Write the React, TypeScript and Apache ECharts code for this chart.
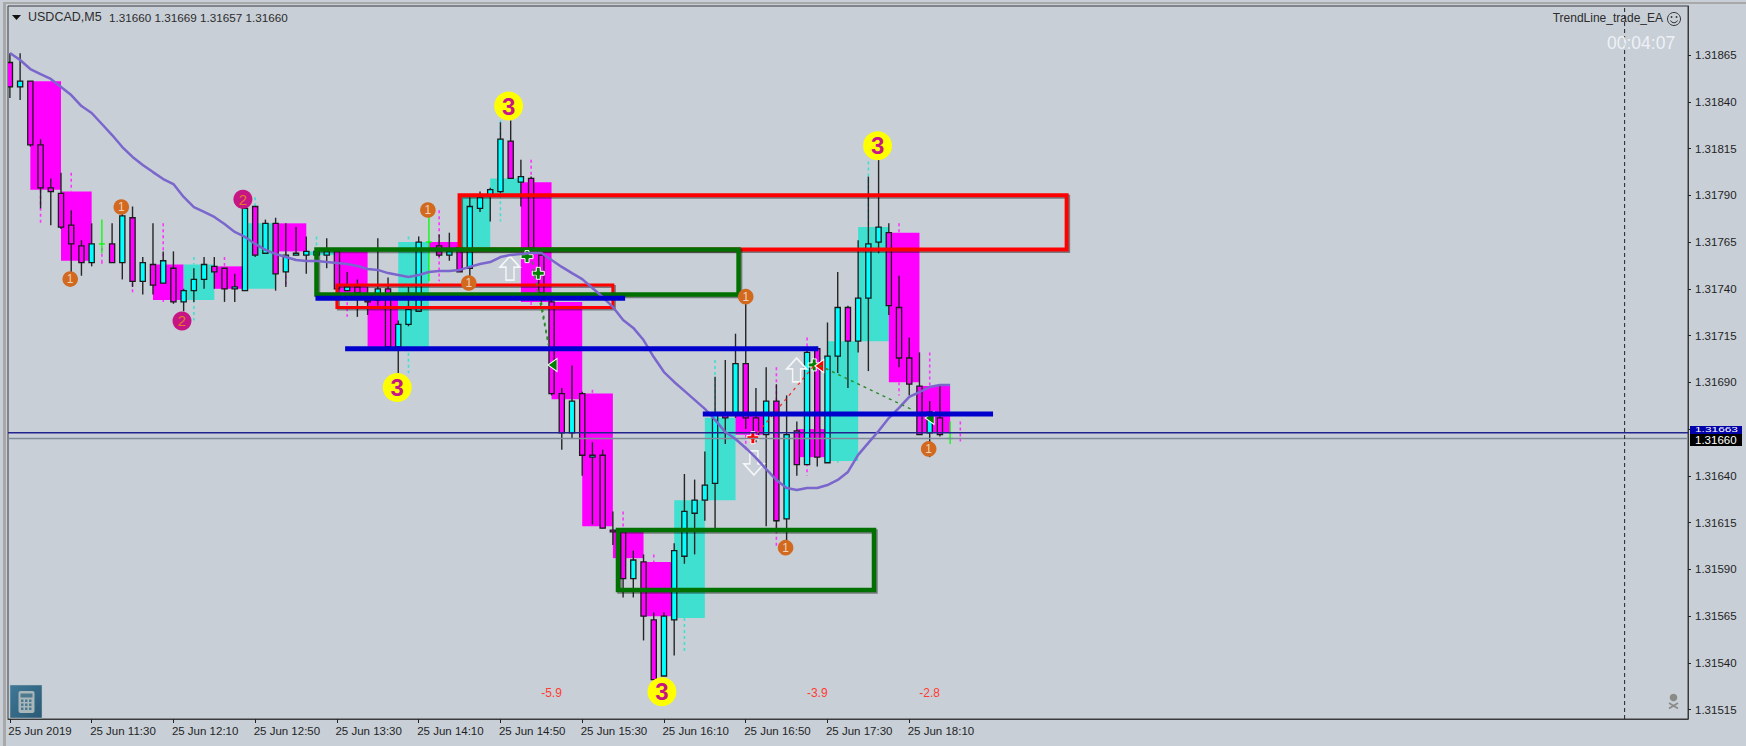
import React, { useEffect, useRef } from "react";
import * as echarts from "echarts";

// All prices are in 1e-5 units (points), e.g. 131660 = 1.31660
const highs = [131866,131866,131851,131820,131799,131802,131782,131766,131775,131777,131775,131784,131784,131757,131775,131760,131760,131740,131751,131757,131757,131751,131748,131783,131784,131777,131778,131775,131773,131768,131761,131767,131760,131749,131745,131741,131767,131746,131723,131741,131768,131782,131769,131770,131765,131789,131792,131794,131829,131830,131809,131800,131761,131734,131687,131699,131685,131658,131654,131621,131610,131600,131598,131567,131567,131604,131641,131638,131653,131693,131702,131716,131736,131687,131698,131689,131683,131669,131709,131708,131722,131749,131731,131766,131800,131809,131775,131747,131714,131706,131680,131688,131669];
const opens = [131861,131848,131851,131817,131794,131791,131774,131763,131754,131764,131764,131754,131778,131744,131753,131743,131751,131733,131739,131745,131752,131751,131740,131739,131784,131759,131775,131749,131758,131758,131758,131758,131760,131739,131741,131734,131734,131740,131709,131721,131728,131765,131763,131758,131762,131751,131783,131790,131792,131819,131797,131799,131758,131733,131684,131663,131684,131650,131651,131611,131610,131585,131594,131563,131533,131563,131597,131620,131627,131636,131673,131673,131700,131671,131662,131680,131617,131664,131646,131708,131647,131704,131730,131712,131735,131765,131770,131730,131703,131688,131663,131671,131660];
const closes = [131848,131851,131817,131794,131792,131773,131764,131754,131764,131764,131754,131779,131744,131754,131742,131755,131733,131739,131745,131753,131749,131740,131741,131783,131758,131775,131748,131758,131759,131760,131760,131760,131740,131741,131738,131733,131740,131709,131721,131729,131765,131765,131758,131760,131749,131784,131789,131793,131820,131799,131800,131762,131738,131684,131663,131680,131651,131651,131612,131610,131585,131595,131565,131531,131565,131600,131621,131627,131635,131673,131671,131700,131671,131661,131680,131616,131662,131646,131706,131650,131704,131730,131712,131735,131764,131773,131731,131703,131689,131662,131674,131662,131660];
const lows = [131842,131841,131816,131783,131774,131772,131749,131747,131752,131759,131754,131745,131741,131737,131737,131743,131732,131728,131733,131740,131740,131733,131733,131739,131757,131759,131739,131741,131758,131748,131755,131751,131739,131739,131725,131726,131731,131708,131695,131720,131728,131744,131757,131755,131749,131746,131781,131776,131791,131799,131784,131758,131733,131683,131654,131660,131640,131614,131612,131603,131575,131575,131552,131531,131533,131544,131593,131598,131616,131612,131657,131671,131665,131658,131613,131612,131600,131640,131646,131645,131647,131695,131687,131706,131696,131759,131726,131698,131683,131662,131650,131661,131657];

// 15-minute candles behind the 5-minute ones: one for every 3 bars, the first at bar 2
const htfFirstBar = 2;
const htfBars = 3;
const htfOpens = [131851,131792,131755,131743,131753,131734,131752,131740,131775,131758,131760,131736,131709,131765,131762,131790,131797,131733,131684,131610,131594,131564,131627,131673,131662,131665,131648,131712,131770,131688,131660];
const htfCloses = [131793,131755,131755,131743,131734,131753,131740,131775,131760,131760,131736,131709,131765,131761,131790,131799,131733,131681,131613,131596,131565,131627,131671,131662,131662,131650,131712,131773,131690,131663,131660];
const htfHighs = [131851,131802,131762,131743,131775,131757,131757,131789,131775,131768,131760,131736,131768,131782,131791,131830,131809,131733,131686,131621,131598,131627,131702,131673,131698,131714,131722,131808,131775,131706,131669];
const htfLows = [131774,131755,131753,131737,131733,131723,131740,131740,131741,131758,131725,131709,131695,131744,131762,131776,131731,131681,131613,131596,131565,131545,131627,131653,131602,131640,131647,131712,131683,131663,131657];

const maValues = [131866.1,131862.3,131857.5,131854.8,131852.2,131847.9,131843.6,131837.7,131834.0,131828.1,131822.2,131815.8,131810.5,131806.2,131802.4,131798.7,131796.0,131789.1,131783.7,131781.1,131778.4,131774.6,131770.4,131767.7,131764.0,131760.8,131758.6,131757.0,131755.4,131754.9,131754.9,131754.3,131753.8,131753.3,131752.2,131750.6,131750.1,131748.4,131747.4,131746.3,131747.4,131749.0,131749.5,131749.5,131750.1,131751.7,131753.3,131754.3,131757.0,131758.1,131758.6,131759.1,131759.1,131755.4,131751.7,131748.4,131745.2,131740.4,131735.6,131730.3,131723.3,131719.1,131712.6,131703.5,131695.5,131690.2,131685.4,131680.6,131675.8,131669.9,131663.4,131659.7,131654.9,131649.6,131643.6,131637.8,131633.5,131632.4,131633.5,131633.5,131635.1,131637.8,131642.1,131651.2,131657.6,131664.0,131670.9,131676.3,131682.2,131684.8,131687.5,131688.6,131688.6];

// [first bar, last bar, top price, bottom price]
const redBoxes = [[44, 103.4, 131790, 131761], [32, 59, 131742, 131730]];
const greenBoxes = [[30, 71.3, 131761, 131737], [59.5, 84.55, 131611, 131579]];
// [first bar, last bar, price]
const blueLines = [[29.9, 60.2, 131735], [32.8, 79.1, 131708], [67.8, 96.2, 131673]];
const askPrice = 131663;
const bidPrice = 131660;
const cursorBar = 158;

const redDashed = [[[72.7, 131660], [78.7, 131699]]];
const greenDashed = [
  [[79.2, 131699], [88.2, 131675.6]],
  [[51.1, 131754.5], [52.7, 131710]],
  [[52, 131733], [52.7, 131710]],
];
const upArrows = [[48.93, 131751], [76.98, 131696.6]];
const downArrows = [[72.8, 131646.9]];
const redPlus = [[72.7, 131660.4]];
const greenPlus = [[78.7, 131699.3], [50.6, 131757.2], [51.7, 131748.3]];
const redLeft = [[79.2, 131698.7]];
const greenLeft = [[53.1, 131699.3], [90, 131670.9]];

const wave1 = [[5.9, 131745.2], [10.9, 131783.7], [40.9, 131782.1], [44.9, 131743.1], [75.9, 131601.6], [72, 131735.8], [89.9, 131654.4]];
const wave2 = [[16.84, 131722.8], [22.8, 131787.9]];
const wave3 = [[48.8, 131837.7], [37.9, 131687.2], [63.8, 131524.6], [84.9, 131816.5]];
const profitLabels: [number, number, string][] = [[53, 131524, "-5.9"], [79, 131524, "-3.9"], [90, 131524, "-2.8"]];

const yTickPoints = [131515,131540,131565,131590,131615,131640,131665,131690,131715,131740,131765,131790,131815,131840,131865];
const yLabelPoints = [131515,131540,131565,131590,131615,131640,131690,131715,131740,131765,131790,131815,131840,131865];
const xTickBars = [0,8,16,24,32,40,48,56,64,72,80,88];
const xLabels = ["25 Jun 2019","25 Jun 11:30","25 Jun 12:10","25 Jun 12:50","25 Jun 13:30","25 Jun 14:10","25 Jun 14:50","25 Jun 15:30","25 Jun 16:10","25 Jun 16:50","25 Jun 17:30","25 Jun 18:10"];

const headerSymbol = "USDCAD,M5";
const headerOHLC = "1.31660 1.31669 1.31657 1.31660";
const eaName = "TrendLine_trade_EA";
const countdown = "00:04:07";
const askLabel = "1.31663";
const bidLabel = "1.31660";

const BG = "#C8CFD7";
const MAGENTA = "#FF00FF";
const TURQ = "#40E0D0";
const CYAN = "#00FFFF";
const INK = "#1F1F1F";
const FONT = '"Liberation Sans", Arial, sans-serif';
const p = (v: number) => v / 100000;
const pts = (rows: number[][]) => rows.map((r) => [r[0], p(r[1])]);

const candleItem = (_: any, api: any) => {
  const i = api.value(0), o = api.value(1), c = api.value(2), h = api.value(3), l = api.value(4);
  const [x] = api.coord([i, o]);
  const yO = api.coord([i, o])[1], yC = api.coord([i, c])[1], yH = api.coord([i, h])[1], yL = api.coord([i, l])[1];
  if (o === c) {
    return {
      type: "group",
      children: [
        { type: "line", shape: { x1: x, y1: yH, x2: x, y2: yL }, style: { stroke: "#00FF00", lineWidth: 1.3 } },
        { type: "line", shape: { x1: x - 3, y1: yO, x2: x + 3, y2: yO }, style: { stroke: "#00FF00", lineWidth: 1.3 } },
      ],
    };
  }
  const top = Math.min(yO, yC), hgt = Math.abs(yO - yC);
  return {
    type: "group",
    children: [
      { type: "line", shape: { x1: x, y1: yH, x2: x, y2: yL }, style: { stroke: "#262626", lineWidth: 1.4 } },
      { type: "rect", shape: { x: x - 2.6, y: top, width: 5.2, height: hgt }, style: { fill: c > o ? CYAN : MAGENTA, stroke: "#1a1a1a", lineWidth: 1.3 } },
    ],
  };
};

const htfItem = (_: any, api: any) => {
  const i = api.value(0), o = api.value(1), c = api.value(2), h = api.value(3), l = api.value(4);
  const a = api.coord([i, Math.max(o, c)]);
  const b = api.coord([i + htfBars, Math.min(o, c)]);
  const mid = api.coord([i + 1, h])[0];
  const yH = api.coord([i, h])[1], yL = api.coord([i, l])[1];
  const color = c > o ? TURQ : MAGENTA;
  const dash = c > o ? TURQ : "#FF33FF";
  const children: any[] = [];
  if (b[1] > a[1]) {
    children.push({ type: "rect", shape: { x: a[0], y: a[1], width: b[0] - a[0], height: b[1] - a[1] }, style: { fill: color } });
  }
  if (a[1] - yH > 1) children.push({ type: "line", shape: { x1: mid, y1: yH, x2: mid, y2: a[1] }, style: { stroke: dash, lineWidth: 1.6, lineDash: [3, 3] } });
  if (yL - b[1] > 1) children.push({ type: "line", shape: { x1: mid, y1: b[1], x2: mid, y2: yL }, style: { stroke: dash, lineWidth: 1.6, lineDash: [3, 3] } });
  return { type: "group", children };
};

const boxItem = (color: string, width: number) => (_: any, api: any) => {
  const a = api.coord([api.value(0), api.value(2)]);
  const b = api.coord([api.value(1), api.value(3)]);
  const shape = { x: a[0], y: a[1], width: b[0] - a[0], height: b[1] - a[1] };
  return {
    type: "group",
    children: [
      { type: "rect", shape: { ...shape, x: shape.x + 1.5, y: shape.y + 1.5 }, style: { fill: "none", stroke: "rgba(20,20,20,0.45)", lineWidth: width } },
      { type: "rect", shape, style: { fill: "none", stroke: color, lineWidth: width } },
    ],
  };
};

const circleItem = (r: number, fill: string, txt: string, color: string, font: string) => (_: any, api: any) => {
  const c = api.coord([api.value(0), api.value(1)]);
  return {
    type: "group",
    children: [
      { type: "circle", shape: { cx: c[0], cy: c[1], r }, style: { fill } },
      { type: "text", style: { text: txt, x: c[0], y: c[1], align: "center", verticalAlign: "middle", fill: color, font: `${font} ${FONT}` } },
    ],
  };
};

const labelItem = (_: any, api: any) => {
  const c = api.coord([api.value(0), api.value(1)]);
  return { type: "text", style: { text: profitLabels[_.dataIndex][2], x: c[0], y: c[1], align: "center", verticalAlign: "middle", fill: "#FF3B30", font: `12px ${FONT}` } };
};

const lineSeries = (data: number[][], color: string, width: number, dash?: number[]) => ({
  type: "line", data, symbol: "none", silent: true, animation: false, clip: true,
  lineStyle: { color, width, type: dash || "solid", cap: "butt" },
});

const ARROW_UP = "path://M10 0L20 11L14 11L14 24L6 24L6 11L0 11Z";
const ARROW_DOWN = "path://M6 0L14 0L14 13L20 13L10 24L0 13L6 13Z";
const PLUS = "path://M3 0L6 0L6 3L9 3L9 6L6 6L6 9L3 9L3 6L0 6L0 3L3 3Z";
const LEFT = "path://M9 0L9 12L0 6Z";

const scatter = (data: number[][], symbol: string, size: number | number[], fill: string, borderWidth: number, border = "#FFFFFF") => ({
  type: "scatter", data: pts(data), symbol, symbolSize: size, silent: true, animation: false,
  itemStyle: { color: fill, borderColor: border, borderWidth, opacity: 1 },
});

export default function App() {
  const ref = useRef<HTMLDivElement>(null);
  useEffect(() => {
    document.body.style.margin = "0";
    const chart = echarts.init(ref.current!, undefined, { renderer: "svg" });
    const candleData = opens.map((o, i) => [i, p(o), p(closes[i]), p(highs[i]), p(lows[i])]);
    const htfData = htfOpens.map((o, k) => [htfFirstBar + k * htfBars, p(o), p(htfCloses[k]), p(htfHighs[k]), p(htfLows[k])]);
    const xMin = -0.186, xMax = 164.2, yMin = 1.3151, yMax = 1.318912;
    const series: any[] = [
      { type: "custom", renderItem: htfItem, data: htfData, encode: { x: 0, y: [1, 2, 3, 4] }, clip: true, silent: true },
      { type: "custom", renderItem: candleItem, data: candleData, encode: { x: 0, y: [1, 2, 3, 4] }, clip: true, silent: true },
      lineSeries([[xMin, p(askPrice)], [xMax, p(askPrice)]], "#24248F", 1.5),
      lineSeries([[xMin, p(bidPrice)], [xMax, p(bidPrice)]], "#808C9A", 1.5),
      lineSeries(maValues.map((v, i) => [i, p(v)]), "#7A66CC", 2.5),
      lineSeries([[cursorBar, yMin], [cursorBar, yMax]], "#222222", 1, [4, 3]),
      ...redDashed.map((l) => lineSeries(pts(l), "#F03030", 1.3, [3, 4])),
      ...greenDashed.map((l) => lineSeries(pts(l), "#2E8B2E", 1.5, [3, 4])),
      {
        type: "custom", renderItem: boxItem("#FF0000", 4),
        data: [redBoxes[0].map((v, k) => (k < 2 ? v : p(v)))], encode: { x: [0, 1], y: [2, 3] }, clip: true, silent: true,
      },
      {
        type: "custom", renderItem: boxItem("#FF0000", 3),
        data: [redBoxes[1].map((v, k) => (k < 2 ? v : p(v)))], encode: { x: [0, 1], y: [2, 3] }, clip: true, silent: true,
      },
      ...blueLines.map((l) => lineSeries([[l[0], p(l[2])], [l[1], p(l[2])]], "#0000CD", 5)),
      {
        type: "custom", renderItem: boxItem("#007000", 4.5),
        data: greenBoxes.map((b) => b.map((v, k) => (k < 2 ? v : p(v)))), encode: { x: [0, 1], y: [2, 3] }, clip: true, silent: true,
      },
      scatter(upArrows, ARROW_UP, [20, 24], "rgba(255,255,255,0)", 1.6, "#F4F6F8"),
      scatter(downArrows, ARROW_DOWN, [20, 24], "rgba(255,255,255,0)", 1.6, "#F4F6F8"),
      scatter(redPlus, PLUS, 12, "#FF0000", 1),
      scatter(greenPlus, PLUS, 12, "#008000", 1),
      scatter(redLeft, LEFT, [9, 13], "#FF0000", 1),
      scatter(greenLeft, LEFT, [9, 13], "#008000", 1),
      { type: "custom", renderItem: circleItem(7.8, "#D2691E", "1", "#EBD2B8", "12px"), data: pts(wave1), encode: { x: 0, y: 1 }, clip: true, silent: true },
      { type: "custom", renderItem: circleItem(9.5, "#C71585", "2", "#E07A2A", "15px"), data: pts(wave2), encode: { x: 0, y: 1 }, clip: true, silent: true },
      { type: "custom", renderItem: circleItem(14.5, "#FFFF00", "3", "#C71585", "bold 24px"), data: pts(wave3), encode: { x: 0, y: 1 }, clip: true, silent: true },
      { type: "custom", renderItem: labelItem, data: profitLabels.map((r) => [r[0], p(r[1])]), encode: { x: 0, y: 1 }, clip: true, silent: true },
    ];
    const dots: any[] = [];
    [0, 1, 2].forEach((r) =>
      [0, 1, 2].forEach((c) =>
        dots.push({ type: "rect", shape: { x: 21 + c * 4, y: 699.5 + r * 4, width: 2.5, height: 2.5 }, style: { fill: "#4E7A90" }, z: 102 })
      )
    );
    chart.setOption({
      animation: false,
      backgroundColor: BG,
      grid: { left: 8, right: 58, top: 6, height: 713, show: true, borderColor: "#3A3A3A", borderWidth: 1, backgroundColor: BG },
      tooltip: { show: false },
      xAxis: {
        type: "value", min: xMin, max: xMax, splitLine: { show: false },
        axisLine: { show: true, onZero: false, lineStyle: { color: "#3A3A3A", width: 1 } },
        axisTick: { show: true, length: 4, customValues: xTickBars, lineStyle: { color: "#222" } },
        axisLabel: {
          show: true, align: "left", margin: 6, color: INK, fontFamily: FONT, fontSize: 11.5,
          customValues: xTickBars.map((v) => v - 0.15),
          formatter: (v: number) => xLabels[xTickBars.indexOf(Math.round(v))] ?? "",
        },
      },
      yAxis: {
        type: "value", position: "right", min: yMin, max: yMax, splitLine: { show: false },
        axisLine: { show: true, onZero: false, lineStyle: { color: "#3A3A3A", width: 1 } },
        axisTick: { show: true, length: 3, customValues: yTickPoints.map(p), lineStyle: { color: "#222" } },
        axisLabel: {
          show: true, margin: 7, color: INK, fontFamily: FONT, fontSize: 11.5,
          customValues: yLabelPoints.map(p),
          formatter: (v: number) => v.toFixed(5),
        },
      },
      series,
      graphic: [
        { type: "line", shape: { x1: 4.5, y1: 3, x2: 1746, y2: 3 }, style: { stroke: "#A8A8A8", lineWidth: 2 }, z: 1, silent: true },
        { type: "line", shape: { x1: 4.5, y1: 2, x2: 4.5, y2: 746 }, style: { stroke: "#A8A8A8", lineWidth: 3 }, z: 1, silent: true },
        { type: "polygon", shape: { points: [[12, 15], [21, 15], [16.5, 20]] }, style: { fill: "#111" }, z: 100 },
        { type: "text", style: { text: headerSymbol, x: 28, y: 17, verticalAlign: "middle", fill: "#2C2C2C", font: `12.5px ${FONT}` }, z: 100 },
        { type: "text", style: { text: headerOHLC, x: 109, y: 17, verticalAlign: "middle", fill: "#2C2C2C", font: `11.7px ${FONT}` }, z: 100 },
        { type: "text", style: { text: eaName, x: 1663, y: 18, align: "right", verticalAlign: "middle", fill: "#2C2C2C", font: `12px ${FONT}` }, z: 100 },
        { type: "circle", shape: { cx: 1674, cy: 19, r: 6.5 }, style: { fill: "none", stroke: "#333", lineWidth: 1 }, z: 100 },
        { type: "circle", shape: { cx: 1671.5, cy: 17, r: 0.9 }, style: { fill: "#333" }, z: 100 },
        { type: "circle", shape: { cx: 1676.5, cy: 17, r: 0.9 }, style: { fill: "#333" }, z: 100 },
        { type: "arc", shape: { cx: 1674, cy: 19, r: 3.8, startAngle: 0.4, endAngle: 2.74 }, style: { fill: "none", stroke: "#333", lineWidth: 1 }, z: 100 },
        { type: "text", style: { text: countdown, x: 1607, y: 43, verticalAlign: "middle", fill: "#EEF2F6", font: `17.5px ${FONT}` }, z: 100 },
        // current price boxes on the price scale
        { type: "rect", shape: { x: 1690, y: 426, width: 52, height: 8 }, style: { fill: "#0000A8" }, z: 100 },
        { type: "text", x: 1695, y: 429.7, scaleX: 1.7, style: { text: askLabel, x: 0, y: 0, verticalAlign: "middle", fill: "#FFFFFF", font: `7px ${FONT}` }, z: 101 },
        { type: "rect", shape: { x: 1690, y: 434, width: 52, height: 12 }, style: { fill: "#000000" }, z: 102 },
        { type: "text", style: { text: bidLabel, x: 1695, y: 440, verticalAlign: "middle", fill: "#FFFFFF", font: `11.5px ${FONT}` }, z: 103 },
        // calculator button
        {
          type: "rect", shape: { x: 10, y: 685, width: 32, height: 33 }, z: 100,
          style: { fill: new echarts.graphic.LinearGradient(0, 0, 1, 1, [{ offset: 0, color: "#3F7896" }, { offset: 1, color: "#2A5A75" }]), stroke: "#B8C0C8", lineWidth: 0.5 },
        },
        { type: "rect", shape: { x: 18.5, y: 691, width: 16, height: 22, r: 2 }, style: { fill: "#A9B6BA" }, z: 101 },
        { type: "rect", shape: { x: 20.5, y: 693.5, width: 12, height: 4 }, style: { fill: "#4E7A90" }, z: 102 },
        ...dots,
        // skull and bones
        { type: "circle", shape: { cx: 1673.5, cy: 697.5, r: 3.8 }, style: { fill: "#8A8A86" }, z: 100 },
        { type: "line", shape: { x1: 1669, y1: 703, x2: 1678, y2: 708.5 }, style: { stroke: "#8A8A86", lineWidth: 1.6 }, z: 100 },
        { type: "line", shape: { x1: 1678, y1: 703, x2: 1669, y2: 708.5 }, style: { stroke: "#8A8A86", lineWidth: 1.6 }, z: 100 },
      ],
    });
    return () => chart.dispose();
  }, []);
  return <div ref={ref} style={{ width: 1746, height: 746 }} />;
}
